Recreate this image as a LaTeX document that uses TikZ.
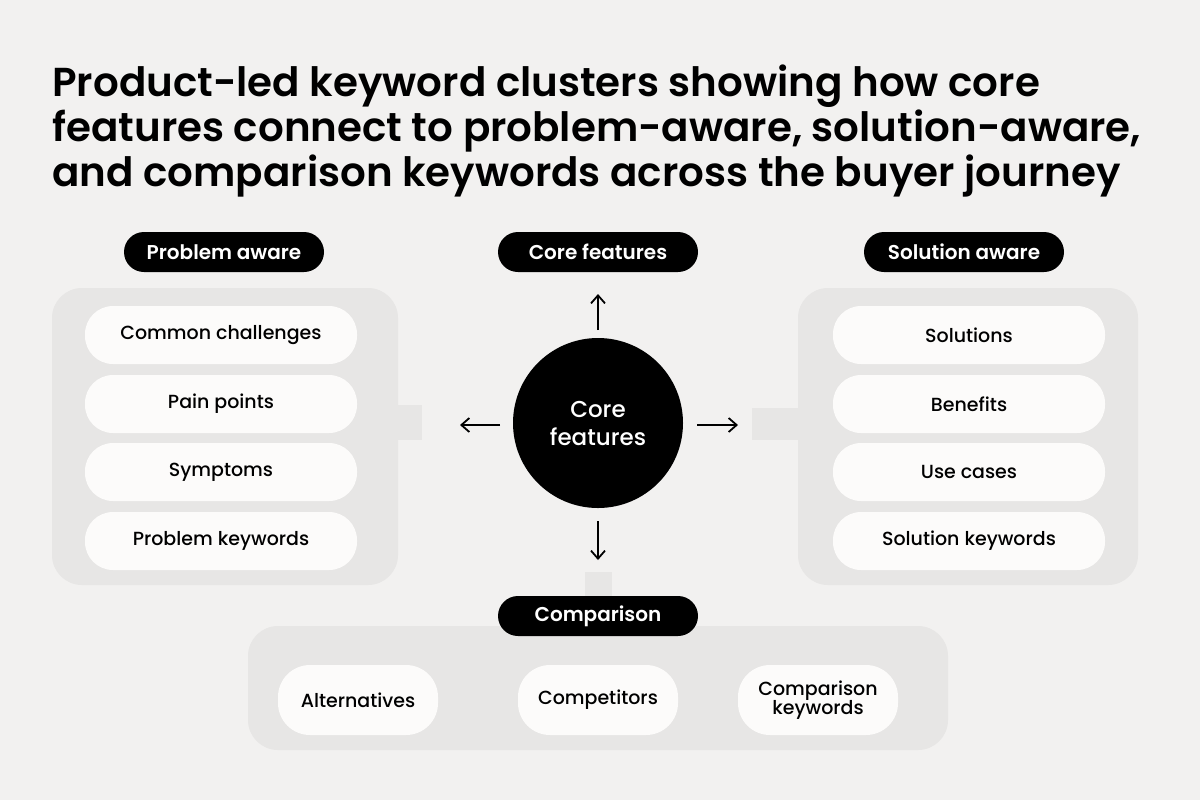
\documentclass[tikz,border=0pt]{standalone}
\usepackage{fontspec}
\setmainfont{Poppins}
\newfontfamily\med{Poppins Medium}
\newfontfamily\semi{Poppins SemiBold}
\usetikzlibrary{arrows.meta}
\definecolor{bg}{HTML}{F2F1F0}
\definecolor{panel}{HTML}{E7E6E5}
\definecolor{pill}{HTML}{FCFBFA}
\tikzset{
 hdr/.style={fill=black,text=white,rounded corners=10pt,minimum width=100pt,minimum height=20pt,inner sep=0pt,font=\fontsize{10}{12}\selectfont\semi},
 item/.style={fill=pill,rounded corners=14pt,minimum width=136pt,minimum height=29pt,inner sep=0pt,font=\fontsize{9.5}{11.5}\selectfont\med,align=center},
 bitem/.style={item,minimum width=80pt,minimum height=35pt,rounded corners=16pt},
 pan/.style={fill=panel,rounded corners=15pt},
 arr/.style={-{Straight Barb[length=4pt,width=7pt]},line width=0.9pt},
}
\begin{document}
\begin{tikzpicture}[x=0.5pt,y=-0.5pt]
\fill[bg] (0,0) rectangle (1200,800);
\useasboundingbox (0,0) rectangle (1200,800);
\node[anchor=north west,align=left,font=\fontsize{20.2}{22.5}\selectfont\semi,inner sep=0pt] (title) at (52,64)
 {Product-led keyword clusters showing how core\\features connect to problem-aware, solution-aware,\\and comparison keywords across the buyer journey};
% panels
\fill[pan] (52,288) rectangle (398,585);
\fill[panel] (395,405) rectangle (422,440);
\fill[pan] (798,288) rectangle (1138,585);
\fill[panel] (752,408) rectangle (801,440);
\fill[pan] (248,626) rectangle (948,750);
\fill[panel] (585,572) rectangle (612,629);
% headers
\node[hdr] (pa) at (224,252) {Problem aware};
\node[hdr] (cf) at (598,252) {Core features};
\node[hdr] (sa) at (964,252) {Solution aware};
\node[hdr] (cmp) at (598,616) {Comparison};
% items
\node[item] (l1) at (221,335) {Common challenges};
\node[item] (l2) at (221,404) {Pain points};
\node[item] (l3) at (221,472) {Symptoms};
\node[item] (l4) at (221,541) {Problem keywords};
\node[item] (r1) at (969,335) {Solutions};
\node[item] (r2) at (969,404) {Benefits};
\node[item] (r3) at (969,472) {Use cases};
\node[item] (r4) at (969,541) {Solution keywords};
\node[bitem] (b1) at (358,700) {Alternatives};
\node[bitem] (b2) at (598,700) {Competitors};
\node[bitem] (b3) at (818,700) {Comparison\\[-2pt]keywords};
% circle
\node[circle,fill=black,text=white,minimum size=85pt,inner sep=0pt,align=center,font=\fontsize{11.5}{14}\selectfont\med] (core) at (598,423) {Core\\features};
\coordinate (ut) at (598,294); \coordinate (ub) at (598,330);
\coordinate (lt) at (460,425); \coordinate (lb) at (500,425);
\coordinate (rt) at (738,425); \coordinate (rb) at (697,425);
\coordinate (dt) at (598,560); \coordinate (db) at (598,521);
\draw[arr] (ub) -- (ut);
\draw[arr] (lb) -- (lt);
\draw[arr] (rb) -- (rt);
\draw[arr] (db) -- (dt);
\end{tikzpicture}
\end{document}
